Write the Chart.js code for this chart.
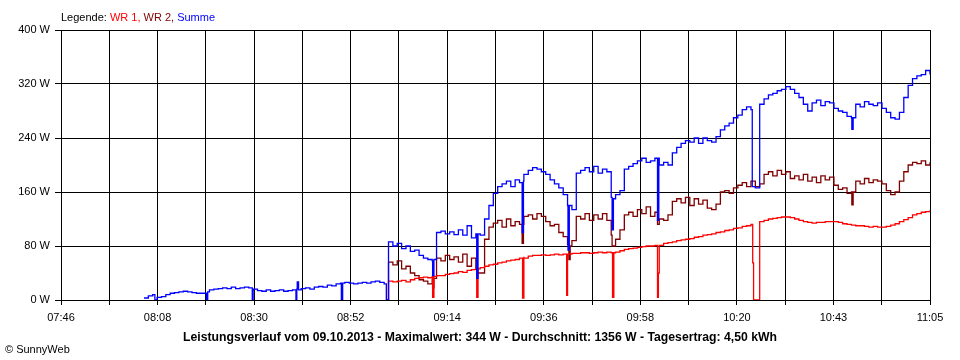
<!DOCTYPE html>
<html>
<head>
<meta charset="utf-8">
<script src="https://cdn.jsdelivr.net/npm/chart.js@4"></script>
<style>
html, body { margin: 0; padding: 0; background: #fff; }
</style>
</head>
<body>
<canvas id="chart" width="960" height="360"></canvas>
<script>
// x axis: minutes since 07:46, range 07:46 .. 11:05
const tickLabels = ['07:46', '08:08', '08:30', '08:52', '09:14', '09:36', '09:58', '10:20', '10:43', '11:05'];
const yTicks = [0, 80, 160, 240, 320, 400];

const seriesNames = ['WR 1', 'WR 2', 'Summe'];
const seriesColors = ['#ff0000', '#800000', '#0000ff'];

const titleText = 'Leistungsverlauf vom 09.10.2013 - Maximalwert: 344 W - Durchschnitt: 1356 W - Tagesertrag: 4,50 kWh';
const creditText = '\u00a9 SunnyWeb';

// one reading per minute (W)
const sumStart = 19;
const sumValues = [
	3, 6, 8, 4, 5, 8, 10, 11, 12, 13,
	12, 11, 10, 10, 10, 15, 16, 17, 18, 17,
	19, 17, 18, 19, 18, 15, 14, 13, 15, 13,
	14, 15, 13, 14, 15, 16, 17, 18, 16, 19,
	20, 19, 22, 21, 24, 25, 26, 25, 24, 25,
	26, 25, 27, 28, 26, 24, 86, 80, 84, 76,
	80, 72, 74, 66, 62, 60, 58, 100, 102, 98,
	101, 97, 104, 96, 110, 92, 98, 96, 120, 140,
	158, 168, 172, 176, 168, 178, 174, 186, 192, 196,
	194, 190, 186, 178, 172, 166, 156, 140, 134, 188,
	192, 196, 190, 198, 188, 194, 190, 152, 156, 162,
	194, 198, 202, 206, 210, 204, 206, 210, 200, 204,
	200, 218, 226, 232, 236, 234, 240, 232, 240, 236,
	234, 242, 252, 258, 262, 270, 274, 282, 286, 282,
	166, 290, 298, 304, 306, 310, 312, 316, 312, 306,
	300, 290, 280, 292, 296, 288, 294, 292, 284, 280,
	278, 272, 270, 290, 286, 294, 290, 288, 292, 284,
	278, 270, 268, 278, 300, 318, 328, 332, 334, 340,
	334
];

const wrStart = 75;
const wr1Values = [
	28, 27, 28, 29, 27, 30, 32, 33, 34, 33,
	35, 36, 36, 38, 39, 40, 42, 41, 44, 45,
	46, 48, 50, 52, 53, 55, 56, 58, 59, 60,
	62, 64, 65, 66, 66, 67, 66, 67, 68, 67,
	68, 68, 69, 69, 70, 70, 69, 70, 71, 70,
	71, 70, 71, 73, 75, 76, 77, 78, 79, 80,
	80, 81, 82, 84, 85, 86, 88, 89, 90, 91,
	93, 94, 96, 97, 98, 100, 101, 103, 104, 106,
	107, 109, 110, 112, 0, 116, 118, 120, 121, 122,
	123, 123, 122, 120, 118, 116, 115, 114, 115, 115,
	116, 116, 116, 115, 113, 112, 111, 110, 110, 109,
	108, 109, 108, 108, 109, 111, 113, 116, 119, 122,
	126, 128, 130, 131, 133
];
const wr2Values = [
	56, 52, 58, 46, 50, 40, 36, 30, 28, 24,
	30, 62, 58, 66, 60, 64, 56, 68, 50, 62,
	46, 40, 90, 108, 114, 118, 108, 120, 110, 116,
	112, 124, 126, 120, 128, 124, 116, 110, 112, 100,
	94, 82, 88, 124, 120, 128, 118, 126, 120, 128,
	118, 96, 90, 104, 126, 130, 124, 134, 128, 138,
	124, 130, 120, 118, 126, 146, 150, 144, 152, 140,
	150, 142, 148, 136, 134, 142, 160, 162, 158, 166,
	170, 174, 168, 176, 168, 172, 186, 190, 184, 192,
	186, 190, 180, 184, 178, 186, 176, 182, 174, 184,
	178, 182, 170, 164, 166, 158, 160, 176, 172, 180,
	174, 178, 176, 172, 162, 156, 160, 176, 190, 200,
	204, 202, 206, 200, 204
];

// short drop-outs between the minute readings [minute, W]
const sumDips = [[21.5, 0], [33.3, 0], [33.6, 12], [43.8, 0], [44.1, 16], [53.8, 0], [54.1, 27], [54.4, 15],
	[64.2, 0], [64.5, 25], [74.5, 0], [85.1, 36], [85.4, 60], [95.2, 32], [95.5, 98], [105.6, 100], [105.9, 176],
	[116.1, 74], [116.4, 140], [126.2, 104], [126.5, 150], [136.6, 118], [136.9, 210], [158.3, 168],
	[181.1, 253], [181.4, 270]];
const wr1Dips = [[74.7, 0], [85.1, 4], [85.4, 35], [95.2, 4], [95.5, 46], [105.7, 3], [106.0, 62], [115.8, 7],
	[116.1, 68], [126.3, 4], [126.6, 70], [136.6, 4], [136.8, 40], [137.0, 81], [158.4, 55], [158.6, 0]];
const wr2Dips = [[74.7, 0], [85.1, 18], [85.4, 32], [95.3, 40], [105.6, 84], [105.9, 112], [116.3, 60],
	[116.6, 80], [126.2, 80], [136.6, 112], [181.1, 141], [181.4, 160]];

function toPoints(start, values, dips) {
	const pts = values.map((v, i) => ({ x: start + i, y: v }));
	dips.forEach(d => pts.push({ x: d[0], y: d[1] }));
	pts.sort((a, b) => a.x - b.x);
	return pts;
}

const FONT = '"Liberation Sans", Arial, sans-serif';
Chart.defaults.font.family = FONT;
Chart.defaults.font.size = 11;
Chart.defaults.color = '#000';

// legend line, title and credit
const textPlugin = {
	id: 'texts',
	afterDraw(chart) {
		const c = chart.ctx;
		c.save();
		c.textBaseline = 'alphabetic';
		c.textAlign = 'left';
		c.font = '11px ' + FONT;
		let x = chart.chartArea.left;
		c.fillStyle = '#000';
		c.fillText('Legende: ', x, 21);
		x += c.measureText('Legende: ').width;
		seriesNames.forEach((n, i) => {
			const t = n + (i < seriesNames.length - 1 ? ', ' : '');
			c.fillStyle = seriesColors[i];
			c.fillText(t, x, 21);
			x += c.measureText(t).width;
		});

		c.fillStyle = '#000';
		c.fillText(creditText, 5, 353);

		c.font = 'bold 12px ' + FONT;
		const w = c.measureText(titleText).width;
		const size = 12 * 594 / w;
		c.font = 'bold ' + size.toFixed(2) + 'px ' + FONT;
		c.textAlign = 'center';
		c.fillText(titleText, 480, 341);
		c.restore();
	}
};

const ctx = document.getElementById('chart').getContext('2d');
const xMax = 199;
new Chart(ctx, {
	type: 'line',
	data: {
		datasets: [
			{ label: seriesNames[0], data: toPoints(wrStart, wr1Values, wr1Dips), borderColor: seriesColors[0], order: 1 },
			{ label: seriesNames[1], data: toPoints(wrStart, wr2Values, wr2Dips), borderColor: seriesColors[1], order: 2 },
			{ label: seriesNames[2], data: toPoints(sumStart, sumValues, sumDips), borderColor: seriesColors[2], order: 0 }
		]
	},
	options: {
		responsive: false,
		animation: false,
		devicePixelRatio: 1,
		layout: { padding: { left: 0, right: 30, top: 30, bottom: 0 } },
		elements: {
			line: { borderWidth: 1.3, stepped: true, tension: 0, fill: false },
			point: { radius: 0, hoverRadius: 0 }
		},
		plugins: {
			legend: { display: false },
			tooltip: { enabled: false }
		},
		scales: {
			x: {
				type: 'linear',
				min: 0,
				max: xMax,
				afterBuildTicks: scale => {
					scale.ticks = Array.from({ length: 19 }, (_, i) => ({ value: i * xMax / 18 }));
				},
				afterFit: scale => { scale.height = 60; },
				ticks: {
					autoSkip: false,
					maxRotation: 0,
					minRotation: 0,
					padding: 6,
					callback: (v, i) => (i % 2 === 0 ? tickLabels[i / 2] : '')
				},
				grid: { color: '#000', lineWidth: 1, tickLength: 5 },
				border: { color: '#000', width: 1 }
			},
			y: {
				min: 0,
				max: 400,
				afterBuildTicks: scale => {
					scale.ticks = yTicks.map(v => ({ value: v }));
				},
				afterFit: scale => { scale.width = 61; },
				ticks: {
					padding: 5,
					callback: v => v + ' W'
				},
				grid: { color: '#000', lineWidth: 1, tickLength: 6 },
				border: { color: '#000', width: 1 }
			}
		}
	},
	plugins: [textPlugin]
});
</script>
</body>
</html>
